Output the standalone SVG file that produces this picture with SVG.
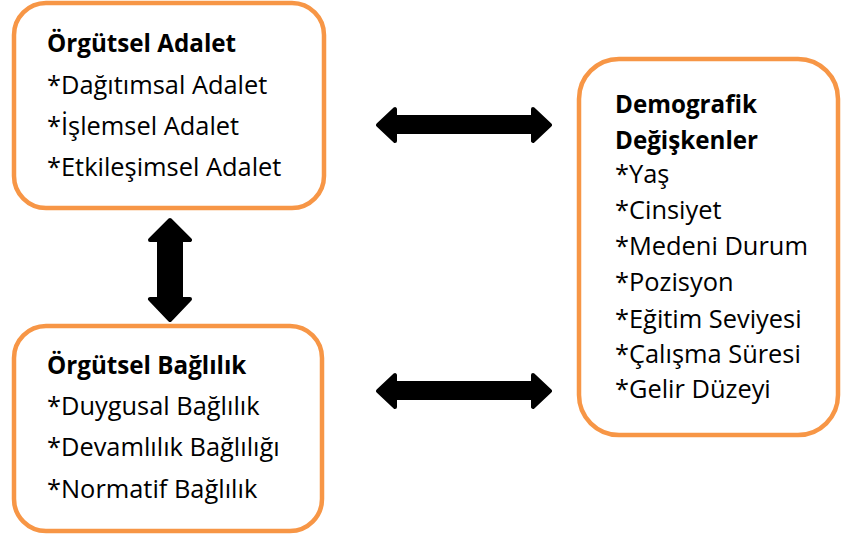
<svg xmlns="http://www.w3.org/2000/svg" width="841" height="538" viewBox="0 0 841 538">
<style>
.box{fill:#fff;stroke:#F79646;stroke-width:4.5}
.t{font-family:"Open Sans","Liberation Sans",sans-serif;font-size:25.4px;fill:#000}
.b{font-weight:bold;font-size:24.2px}
.arr{fill:#000;stroke:#000;stroke-width:4;stroke-linejoin:round}
</style>
<rect width="841" height="538" fill="#fff"/>
<g id="orgutsel-adalet">
<rect class="box" x="14" y="3" width="310" height="205" rx="32"/>
<text class="t b" x="47" y="52">Örgütsel Adalet</text>
<text class="t" x="47" y="94">*Dağıtımsal Adalet</text>
<text class="t" x="47" y="135">*İşlemsel Adalet</text>
<text class="t" x="47" y="176">*Etkileşimsel Adalet</text>
</g>
<g id="orgutsel-baglilik">
<rect class="box" x="14" y="326" width="308" height="205" rx="32"/>
<text class="t b" x="47" y="374">Örgütsel Bağlılık</text>
<text class="t" x="47" y="415">*Duygusal Bağlılık</text>
<text class="t" x="47" y="456">*Devamlılık Bağlılığı</text>
<text class="t" x="47" y="498">*Normatif Bağlılık</text>
</g>
<g id="demografik">
<rect class="box" x="579" y="59" width="259" height="376" rx="40"/>
<text class="t b" x="615" y="113">Demografik</text>
<text class="t b" x="615" y="149">Değişkenler</text>
<text class="t" x="615" y="183">*Yaş</text>
<text class="t" x="615" y="219">*Cinsiyet</text>
<text class="t" x="615" y="255">*Medeni Durum</text>
<text class="t" x="615" y="291">*Pozisyon</text>
<text class="t" x="615" y="328">*Eğitim Seviyesi</text>
<text class="t" x="615" y="363">*Çalışma Süresi</text>
<text class="t" x="615" y="398">*Gelir Düzeyi</text>
</g>
<g id="connectors">
<path class="arr" d="M378,125 L395,109 L395,117 L533,117 L533,109 L550,125 L533,141 L533,132 L395,132 L395,141 Z"/>
<path class="arr" d="M378,391 L395,375 L395,383 L533,383 L533,375 L550,391 L533,407 L533,398 L395,398 L395,407 Z"/>
<path class="arr" d="M170,220 L190,240 L181,240 L181,299 L190,299 L170,320 L150,299 L159,299 L159,240 L150,240 Z"/>
</g>
</svg>
